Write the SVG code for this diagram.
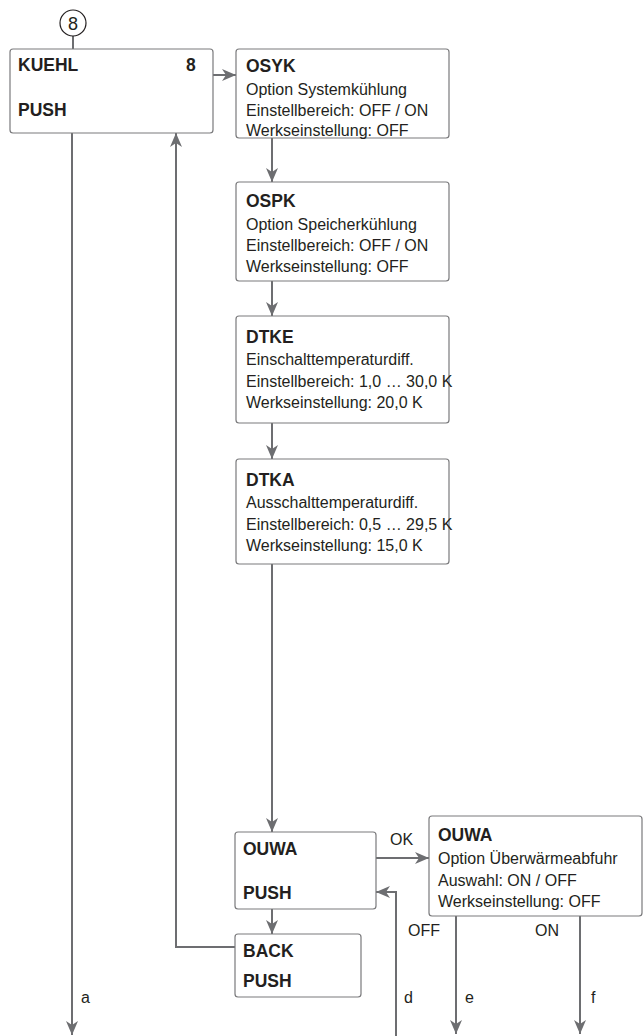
<svg xmlns="http://www.w3.org/2000/svg" width="643" height="1036" viewBox="0 0 643 1036">
<style>
.box{fill:#fff;stroke:#7a7a7c;stroke-width:1.2}
.ln{fill:none;stroke:#6d6e71;stroke-width:2}
.b{font-family:"Liberation Sans",Arial,sans-serif;font-weight:bold;font-size:17.5px;fill:#231f20}
.t{font-family:"Liberation Sans",Arial,sans-serif;font-size:16px;fill:#231f20}
</style>
<defs>
<marker id="ah" viewBox="0 0 14 12" refX="14" refY="6" markerWidth="14" markerHeight="12" markerUnits="userSpaceOnUse" orient="auto">
<path d="M0,0 L14,6 L0,12 L4,6 z" fill="#6d6e71"/>
</marker>
</defs>
<rect width="643" height="1036" fill="#fff"/>
<g id="connectors">
<line class="ln" x1="73" y1="36" x2="73" y2="49"/>
<line class="ln" x1="213" y1="75" x2="236" y2="75" marker-end="url(#ah)"/>
<line class="ln" x1="272" y1="138" x2="272" y2="182" marker-end="url(#ah)"/>
<line class="ln" x1="272" y1="281" x2="272" y2="316" marker-end="url(#ah)"/>
<line class="ln" x1="272" y1="423" x2="272" y2="459" marker-end="url(#ah)"/>
<line class="ln" x1="272" y1="564" x2="272" y2="832" marker-end="url(#ah)"/>
<line class="ln" x1="376" y1="858" x2="429" y2="858" marker-end="url(#ah)"/>
<line class="ln" x1="272" y1="909" x2="272" y2="934" marker-end="url(#ah)"/>
<polyline class="ln" points="235,947 176,947 176,133" marker-end="url(#ah)"/>
<line class="ln" x1="72" y1="133" x2="72" y2="1035" marker-end="url(#ah)"/>
<polyline class="ln" points="396,1036 396,892 376,892" marker-end="url(#ah)"/>
<line class="ln" x1="456" y1="916" x2="456" y2="1034" marker-end="url(#ah)"/>
<line class="ln" x1="580" y1="916" x2="580" y2="1034" marker-end="url(#ah)"/>
<text class="t" x="390" y="845">OK</text>
<text class="t" x="408" y="936">OFF</text>
<text class="t" x="535" y="936">ON</text>
<text class="t" x="81" y="1003">a</text>
<text class="t" x="404" y="1003">d</text>
<text class="t" x="465" y="1003">e</text>
<text class="t" x="591" y="1003">f</text>
</g>
<g id="start8">
<circle cx="73" cy="23" r="13" fill="#fff" stroke="#231f20" stroke-width="1.2"/>
<text class="t" x="73" y="29.5" text-anchor="middle" style="font-size:18px">8</text>
</g>
<g id="kuehl">
<rect class="box" x="10" y="49" width="203" height="84" rx="3"/>
<text class="b" x="18" y="71">KUEHL</text>
<text class="b" x="186" y="71">8</text>
<text class="b" x="18" y="116">PUSH</text>
</g>
<g id="osyk">
<rect class="box" x="236" y="49" width="213" height="89" rx="3"/>
<text class="b" x="246" y="72">OSYK</text>
<text class="t" x="246" y="95">Option Systemkühlung</text>
<text class="t" x="246" y="116">Einstellbereich: OFF / ON</text>
<text class="t" x="246" y="136">Werkseinstellung: OFF</text>
</g>
<g id="ospk">
<rect class="box" x="236" y="182" width="213" height="99" rx="3"/>
<text class="b" x="246" y="207">OSPK</text>
<text class="t" x="246" y="230">Option Speicherkühlung</text>
<text class="t" x="246" y="251">Einstellbereich: OFF / ON</text>
<text class="t" x="246" y="272">Werkseinstellung: OFF</text>
</g>
<g id="dtke">
<rect class="box" x="236" y="316" width="213" height="107" rx="3"/>
<text class="b" x="246" y="343">DTKE</text>
<text class="t" x="246" y="365">Einschalttemperaturdiff.</text>
<text class="t" x="246" y="387">Einstellbereich: 1,0 … 30,0 K</text>
<text class="t" x="246" y="408">Werkseinstellung: 20,0 K</text>
</g>
<g id="dtka">
<rect class="box" x="236" y="459" width="213" height="105" rx="3"/>
<text class="b" x="246" y="486">DTKA</text>
<text class="t" x="246" y="508">Ausschalttemperaturdiff.</text>
<text class="t" x="246" y="530">Einstellbereich: 0,5 … 29,5 K</text>
<text class="t" x="246" y="551">Werkseinstellung: 15,0 K</text>
</g>
<g id="ouwa">
<rect class="box" x="235" y="832" width="141" height="77" rx="3"/>
<text class="b" x="243" y="855">OUWA</text>
<text class="b" x="243" y="899">PUSH</text>
</g>
<g id="ouwa-option">
<rect class="box" x="429" y="816" width="213" height="100" rx="3"/>
<text class="b" x="438" y="841">OUWA</text>
<text class="t" x="438" y="864">Option Überwärmeabfuhr</text>
<text class="t" x="438" y="886">Auswahl: ON / OFF</text>
<text class="t" x="438" y="907">Werkseinstellung: OFF</text>
</g>
<g id="back">
<rect class="box" x="235" y="934" width="126" height="63" rx="3"/>
<text class="b" x="243" y="957">BACK</text>
<text class="b" x="243" y="987">PUSH</text>
</g>
</svg>
